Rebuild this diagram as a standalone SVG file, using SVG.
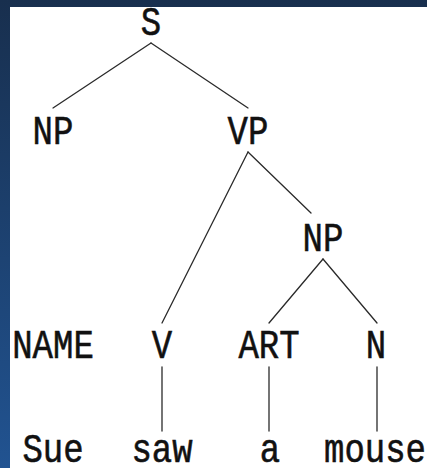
<svg xmlns="http://www.w3.org/2000/svg" width="427" height="468" viewBox="0 0 427 468">
<defs>
<linearGradient id="bg" x1="0" y1="0" x2="0" y2="1">
<stop offset="0" stop-color="#182f4e"/>
<stop offset="1" stop-color="#215391"/>
</linearGradient>
<style>
.lbl{font-family:"Liberation Mono","DejaVu Sans Mono",monospace;font-size:34px;fill:#111;stroke:#111;stroke-width:0.5;text-anchor:middle}
.edge{stroke:#2a2a2a;stroke-width:1.3;fill:none;stroke-linecap:round}
</style>
</defs>
<rect x="0" y="0" width="427" height="468" fill="url(#bg)"/>
<rect x="10" y="7" width="417" height="461" fill="#ffffff"/>
<g id="connectors">
<line class="edge" x1="151" y1="43" x2="53" y2="108"/>
<line class="edge" x1="151" y1="43" x2="248" y2="108"/>
<line class="edge" x1="248" y1="152" x2="162" y2="323"/>
<line class="edge" x1="248" y1="152" x2="311" y2="213"/>
<line class="edge" x1="323" y1="259" x2="269" y2="323"/>
<line class="edge" x1="323" y1="259" x2="377" y2="323"/>
<line class="edge" x1="162" y1="367" x2="162" y2="431"/>
<line class="edge" x1="269" y1="367" x2="269" y2="431"/>
<line class="edge" x1="377" y1="367" x2="377" y2="431"/>
</g>
<g id="node-S"><text class="lbl" transform="translate(151 35) scale(1 1.18)">S</text></g>
<g id="node-NP1"><text class="lbl" transform="translate(53 144) scale(1 1.18)">NP</text></g>
<g id="node-VP"><text class="lbl" transform="translate(248 144) scale(1 1.18)">VP</text></g>
<g id="node-NP2"><text class="lbl" transform="translate(323 251) scale(1 1.18)">NP</text></g>
<g id="node-NAME"><text class="lbl" transform="translate(53 358) scale(1 1.18)">NAME</text></g>
<g id="node-V"><text class="lbl" transform="translate(162 358) scale(1 1.18)">V</text></g>
<g id="node-ART"><text class="lbl" transform="translate(269 358) scale(1 1.18)">ART</text></g>
<g id="node-N"><text class="lbl" transform="translate(376 358) scale(1 1.18)">N</text></g>
<g id="node-Sue"><text class="lbl" transform="translate(53 462) scale(1 1.18)">Sue</text></g>
<g id="node-saw"><text class="lbl" transform="translate(162 462) scale(1 1.18)">saw</text></g>
<g id="node-a"><text class="lbl" transform="translate(270 462) scale(1 1.18)">a</text></g>
<g id="node-mouse"><text class="lbl" transform="translate(375 462) scale(1 1.18)">mouse</text></g>
</svg>
